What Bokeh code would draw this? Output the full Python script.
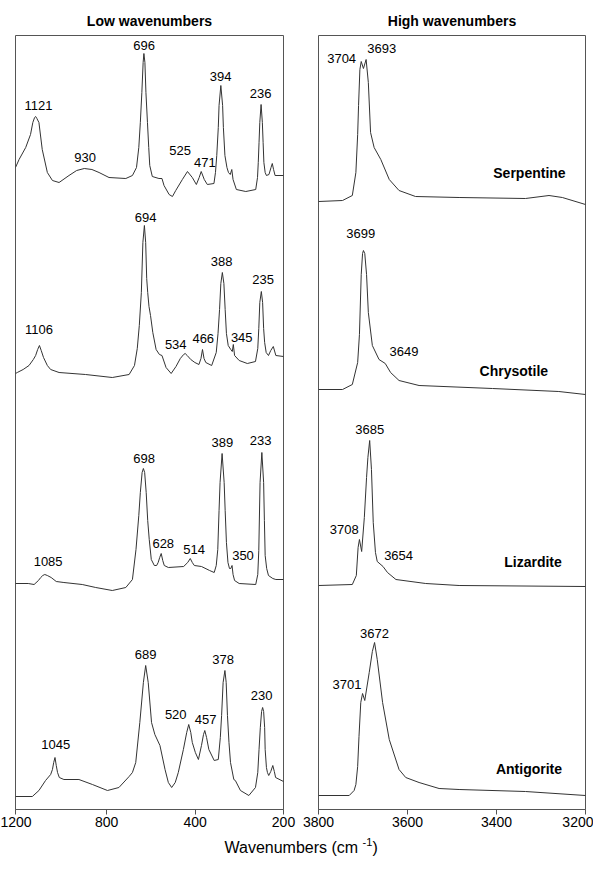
from bokeh.plotting import figure
from bokeh.layouts import column, row
from bokeh.models import Range1d, FixedTicker, Label
from bokeh.core.properties import value
from bokeh.embed import file_html
from bokeh.resources import INLINE

FONT = "Liberation Sans"
LINE = "#333333"
FRAME = "#555555"

# ---------------- Low wavenumber spectra (cm-1, intensity a.u.) ----------------
serp_lo_x = [1200,1186,1160,1141,1132,1125,1121,1116,1108,1095,1075,1055,1029,990,960,930,900,872,833,767,
             741,725,716,710,704,699,696,692,688,682,677,673,663,637,625,617,597,584,571,545,
             525,506,490,479,471,459,447,421,415,410,404,401,394,387,384,378,370,364,357,351,
             346,333,296,257,250,247,244,241,236,231,228,225,220,215,205,197,192,187,181,148]
serp_lo_y = [30,38,50,63,75,80,81,79,75,48,25,17,15,22,27,29,28,25,20,19,
             22,30,50,75,105,135,144,135,105,75,50,32,21,19,19,12,3,1,7,18,
             26,20,13,20,26,18,13,14,25,42,70,92,112,92,70,42,30,25,23,28,
             18,8,6,8,20,35,55,75,93,75,55,35,25,22,23,30,34,28,22,22]

chry_lo_x = [1200,1193,1170,1147,1130,1121,1113,1106,1099,1090,1075,1062,1029,925,820,754,733,722,714,706,
             700,694,689,685,681,676,670,661,648,635,625,609,589,570,553,540,534,526,512,496,
             480,472,466,460,453,430,412,405,399,394,388,382,377,372,365,355,349,345,340,322,
             290,258,249,245,241,235,230,226,222,216,207,198,188,178,148]
chry_lo_y = [5,6,9,13,19,23,29,33,28,21,13,9,6,4,1,4,13,30,53,86,
             136,153,136,100,86,72,63,46,29,24,23,11,5,12,20,24,25,23,19,16,
             14,20,29,20,16,13,26,45,69,95,106,95,69,45,33,29,27,34,23,18,
             15,17,30,50,76,87,76,50,36,26,23,28,32,23,22]

liza_lo_x = [1200,1150,1127,1110,1101,1093,1085,1075,1060,1040,1010,938,885,820,767,741,727,716,710,703,
             698,693,687,681,675,667,655,646,640,634,628,622,616,600,540,524,514,506,498,470,
             438,420,412,406,401,397,389,381,377,372,366,360,355,350,346,340,322,257,249,245,
             240,233,226,223,220,214,207,190,178,148]
liza_lo_y = [7,7,6,10,13,15,16,15,13,9,8,6,3,0,3,11,41,75,98,118,
             122,118,98,70,51,31,25,25,28,33,37,30,25,23,24,28,32,28,25,24,
             20,18,25,41,80,108,137,108,80,48,28,22,22,25,16,10,7,6,16,40,
             108,138,108,70,35,22,15,12,11,11]

anti_lo_x = [1200,1134,1108,1082,1062,1055,1050,1045,1040,1035,1028,1010,951,898,839,794,754,741,728,712,
             698,689,679,666,653,633,613,600,587,573,561,541,528,520,512,506,494,482,470,462,
             457,450,441,420,404,396,391,385,378,373,368,362,356,343,337,317,284,258,249,244,
             239,234,230,226,222,220,215,211,206,198,190,184,179,148]
anti_lo_y = [1,1,7,17,23,28,35,40,32,25,20,18,18,13,7,10,21,25,35,75,
             115,132,115,75,63,52,28,15,10,15,25,48,65,73,65,55,45,38,52,63,
             67,60,48,37,38,60,82,115,127,115,82,55,35,18,17,7,2,10,25,48,
             70,86,90,86,70,48,30,25,22,26,32,26,20,16]

# ---------------- High wavenumber spectra ----------------
serp_hi_x = [3800,3746,3724,3716,3712,3710,3707,3704,3699,3693,3688,3683,3675,3660,3641,3619,3582,3484,3335,3282,3252,3200]
serp_hi_y = [3,4,9,32,70,99,135,143,136,145,122,72,57,45,25,14,8,7,6,9,7,0]

chry_hi_x = [3800,3746,3724,3712,3708,3704,3701,3699,3696,3692,3688,3679,3664,3650,3638,3619,3574,3409,3260,3200]
chry_hi_y = [5,5,10,32,60,120,141,144,141,120,82,49,35,31,22,14,9,6,3,0]

liza_hi_x = [3800,3724,3715,3711,3708,3703,3697,3692,3689,3685,3681,3677,3672,3668,3655,3645,3626,3559,3484,3200]
liza_hi_y = [2,3,12,40,48,36,70,110,130,147,118,65,35,26,21,15,8,4,2,1]

anti_hi_x = [3800,3731,3720,3716,3712,3709,3705,3701,3696,3686,3679,3674,3668,3656,3641,3619,3604,3574,3529,3484,3335,3200]
anti_hi_y = [1,1,6,12,30,60,94,103,96,124,145,154,137,94,57,27,19,14,8,7,5,1]

# vertical stacking offsets (a.u.)
lo_offsets = [612, 431, 219, 12]
hi_offsets = [605, 415, 222, 13]

# peak labels
lo_label_text = ["1121","930","696","525","471","394","236",
                 "1106","694","534","466","388","345","235",
                 "1085","698","628","514","389","350","233",
                 "1045","689","520","457","378","230"]
lo_label_x = [1110,927,695,554,457,395,238,
              1108,689,571,463,391,312,228,
              1072,695,620,499,388,307,238,
              1042,689,571,454,385,234]
lo_label_y = [703.7,652,764.3,659.3,647,732.7,716,
              480.3,592,465.3,471.3,547.7,472,529.7,
              248,351,266.3,260.3,367,253.7,368.7,
              64.7,155.3,95.3,90.3,150.3,113.7]

hi_label_text = ["3704","3693","3699","3649","3685","3708","3654","3672","3701"]
hi_label_x = [3748,3658,3705,3608,3685,3742,3620,3674,3736]
hi_label_y = [751,761,576.3,457.7,380.3,279.7,253.7,176.3,125.3]

minerals = ["Serpentine","Chrysotile","Lizardite","Antigorite"]
mineral_x = [3326,3361,3318,3327]
mineral_y = [637,438.7,248,41]

lo_ticks = [1200, 842, 495, 148]
lo_tick_labels = ["1200", "800", "400", "200"]
hi_ticks = [3800, 3600, 3400, 3200]

Y_TOP = 774


def style(p, title):
    p.title.text = title
    p.title.align = "center"
    p.title.text_font = FONT
    p.title.text_font_style = "bold"
    p.title.text_font_size = "14px"
    p.title.text_color = "black"
    p.title.standoff = 14
    p.yaxis.visible = False
    p.grid.visible = False
    p.outline_line_color = FRAME
    p.outline_line_width = 1
    ax = p.xaxis[0]
    ax.axis_line_color = FRAME
    ax.major_tick_line_color = FRAME
    ax.major_tick_out = 5
    ax.major_tick_in = 0
    ax.minor_tick_line_color = None
    ax.major_label_text_font = FONT
    ax.major_label_text_font_size = "14px"
    ax.major_label_text_color = "black"
    ax.major_label_standoff = 2
    p.background_fill_color = "white"
    p.border_fill_color = "white"


p1 = figure(width=300, height=832, x_range=Range1d(1200, 148), y_range=Range1d(0, Y_TOP),
            toolbar_location=None, output_backend="svg",
            min_border_left=15, min_border_right=17, min_border_top=35, min_border_bottom=23)
style(p1, "Low wavenumbers")
p1.xaxis[0].ticker = FixedTicker(ticks=lo_ticks)
p1.xaxis[0].major_label_overrides = {t: s for t, s in zip(lo_ticks, lo_tick_labels)}

for xs, ys, off in zip([serp_lo_x, chry_lo_x, liza_lo_x, anti_lo_x],
                       [serp_lo_y, chry_lo_y, liza_lo_y, anti_lo_y], lo_offsets):
    p1.line(xs, [v + off for v in ys], line_color=LINE, line_width=1)

p1.text(x=lo_label_x, y=lo_label_y, text=lo_label_text, text_font=value(FONT),
        text_font_size="13px", text_align="center", text_baseline="middle", text_color="black")

p2 = figure(width=293, height=832, x_range=Range1d(3800, 3200), y_range=Range1d(0, Y_TOP),
            toolbar_location=None, output_backend="svg",
            min_border_left=18, min_border_right=8, min_border_top=35, min_border_bottom=23)
style(p2, "High wavenumbers")
p2.xaxis[0].ticker = FixedTicker(ticks=hi_ticks)

for xs, ys, off in zip([serp_hi_x, chry_hi_x, liza_hi_x, anti_hi_x],
                       [serp_hi_y, chry_hi_y, liza_hi_y, anti_hi_y], hi_offsets):
    p2.line(xs, [v + off for v in ys], line_color=LINE, line_width=1)

p2.text(x=hi_label_x, y=hi_label_y, text=hi_label_text, text_font=value(FONT),
        text_font_size="13px", text_align="center", text_baseline="middle", text_color="black")
p2.text(x=mineral_x, y=mineral_y, text=minerals, text_font=value(FONT), text_font_style="bold",
        text_font_size="14px", text_align="center", text_baseline="middle", text_color="black")

# shared x-axis title
p3 = figure(width=593, height=26, x_range=Range1d(0, 593), y_range=Range1d(0, 26),
            toolbar_location=None, output_backend="svg", x_axis_type=None, y_axis_type=None,
            min_border=0)
p3.grid.visible = False
p3.outline_line_color = None
p3.add_layout(Label(x=224, y=11, text="Wavenumbers (cm", text_font=FONT, text_font_size="16px",
                    text_align="left", text_baseline="middle", text_color="black"))
p3.add_layout(Label(x=362, y=17, text="-1", text_font=FONT, text_font_size="11px",
                    text_align="left", text_baseline="middle", text_color="black"))
p3.add_layout(Label(x=372, y=11, text=")", text_font=FONT, text_font_size="16px",
                    text_align="left", text_baseline="middle", text_color="black"))

layout = column(row(p1, p2), p3)
open("out.html", "w").write(file_html(layout, INLINE))
